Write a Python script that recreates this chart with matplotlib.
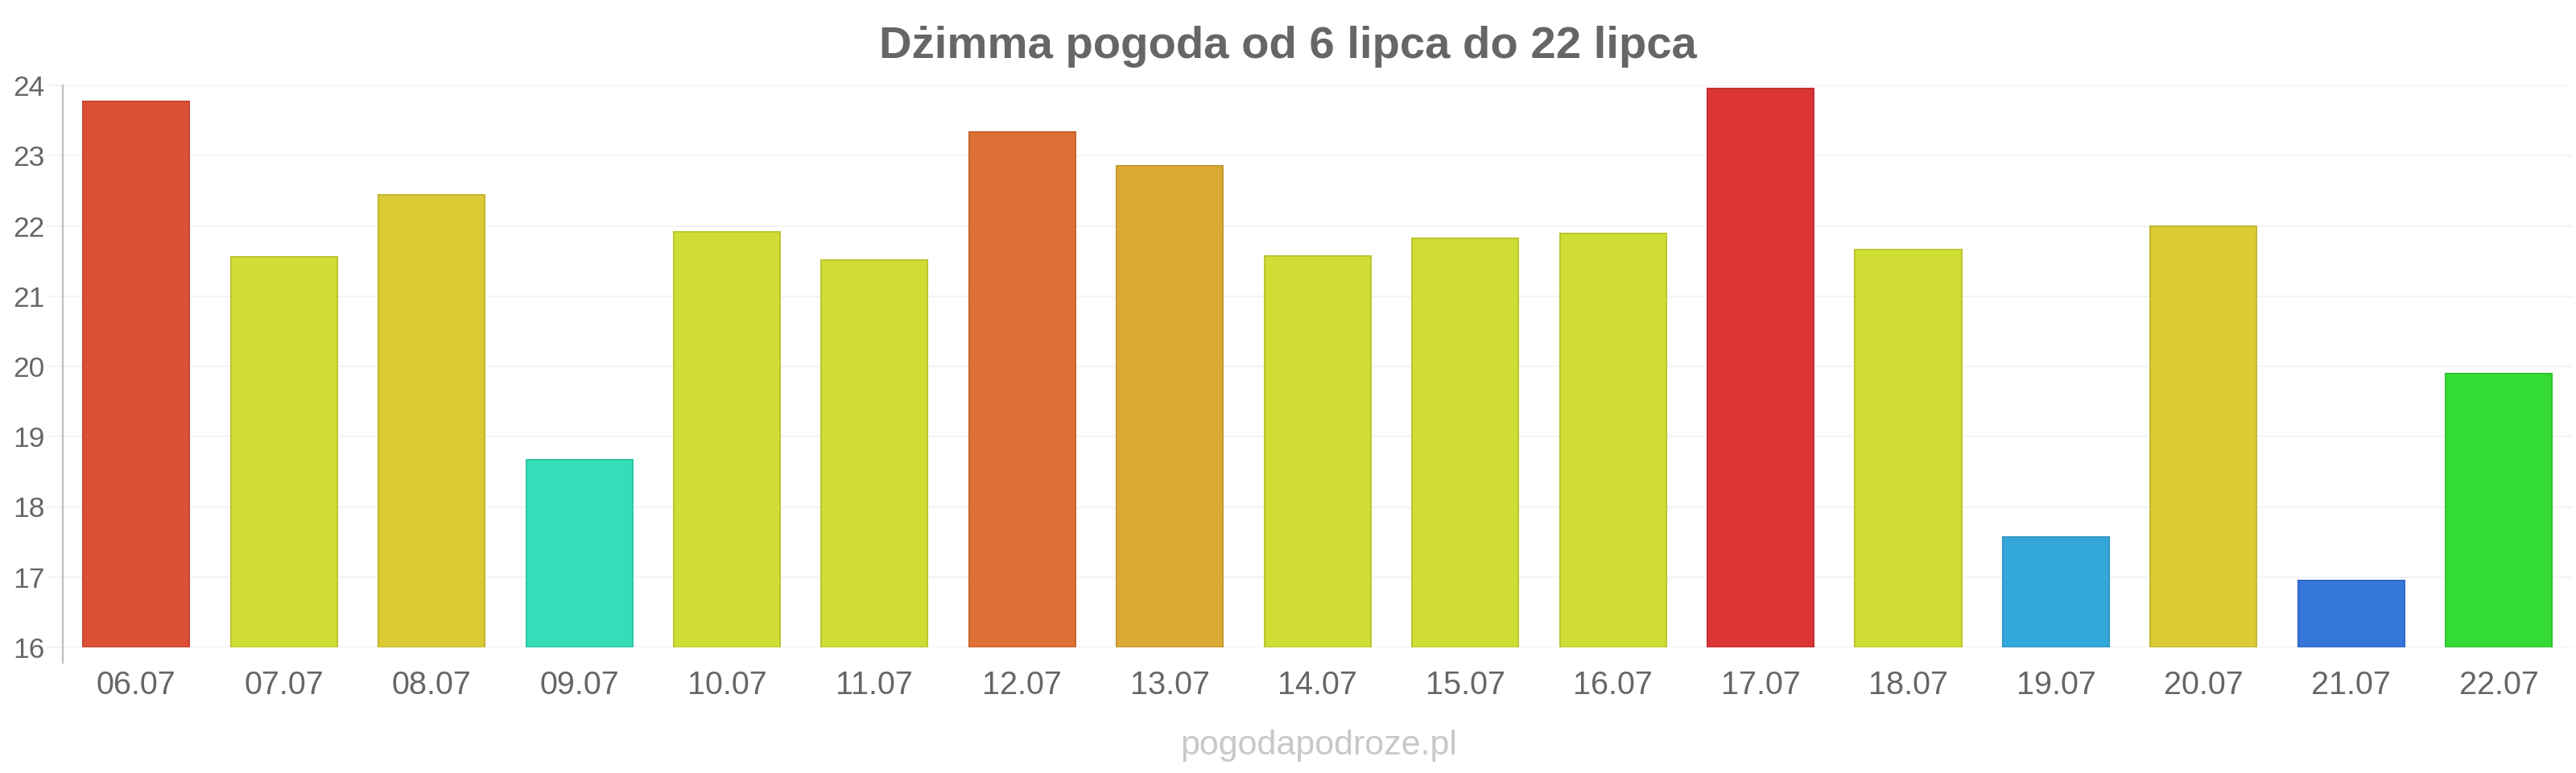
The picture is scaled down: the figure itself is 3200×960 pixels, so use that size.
import matplotlib
matplotlib.use("Agg")
import matplotlib.pyplot as plt
import matplotlib.colors as mcolors

categories = ["06.07", "07.07", "08.07", "09.07", "10.07", "11.07", "12.07", "13.07",
              "14.07", "15.07", "16.07", "17.07", "18.07", "19.07", "20.07", "21.07", "22.07"]
values = [23.77, 21.56, 22.44, 18.67, 21.91, 21.51, 23.33, 22.85,
          21.57, 21.82, 21.89, 23.95, 21.66, 17.57, 21.99, 16.95, 19.90]
colors = ["#DC5035", "#D0DD35", "#DACB35", "#35DDB8", "#D0DD35", "#D0DD35", "#DE7035", "#DBAA35",
          "#D0DD35", "#D0DD35", "#D0DD35", "#DB3535", "#D0DD35", "#35A8DB", "#DBCB35", "#3576DB", "#35DB35"]
yticks = [16, 17, 18, 19, 20, 21, 22, 23, 24]
title = "Dżimma pogoda od 6 lipca do 22 lipca"
watermark = "pogodapodroze.pl"

plt.rcParams['font.family'] = ['Liberation Sans', 'DejaVu Sans']

W, H = 3200, 960
fig = plt.figure(figsize=(W / 100, H / 100), dpi=100)
left = 77.5 / W
right = 3196 / W
bottom = 1 - 804 / H
top = 1 - 106 / H
ax = fig.add_axes([left, bottom, right - left, top - bottom])

def darker(c, f=0.9):
    r, g, b = mcolors.to_rgb(c)
    return (r * f, g * f, b * f)

x = list(range(len(categories)))
base = yticks[0]
heights = [v - base for v in values]
ax.bar(x, heights, bottom=base, width=0.72, color=colors,
       edgecolor=[darker(c) for c in colors], linewidth=1.5, zorder=3)

ax.set_xlim(-0.5, len(categories) - 0.5)
ax.set_ylim(yticks[0], yticks[-1])
ax.set_yticks(yticks)
ax.set_yticklabels([str(t) for t in yticks])
ax.set_xticks(x)
ax.set_xticklabels(categories)

ax.grid(axis='y', color='#f3f3f3', linewidth=1.5, zorder=0)
ax.grid(axis='x', visible=False)
for s in ax.spines.values():
    s.set_visible(False)

ax.tick_params(axis='y', length=14.5, width=1.5, color='#f3f3f3', pad=1,
               labelsize=25.5, labelcolor='#666666')
ax.tick_params(axis='x', length=0, pad=20, labelsize=28.5, labelcolor='#666666')

# left axis line, extending slightly below the baseline
ax.plot([0, 0], [-0.027, 1.0], transform=ax.transAxes, color='#c0c0c0',
        linewidth=1.6, clip_on=False, zorder=4)

fig.text(0.5, 1 - 58 / H, title, ha='center', va='center', fontsize=40.5,
         fontweight='bold', color='#666666')
fig.text(1638 / W, 1 - 926 / H, watermark, ha='center', va='center', fontsize=31,
         color='#c8c8c8')

fig.savefig("out.png", dpi=100, facecolor='white')
